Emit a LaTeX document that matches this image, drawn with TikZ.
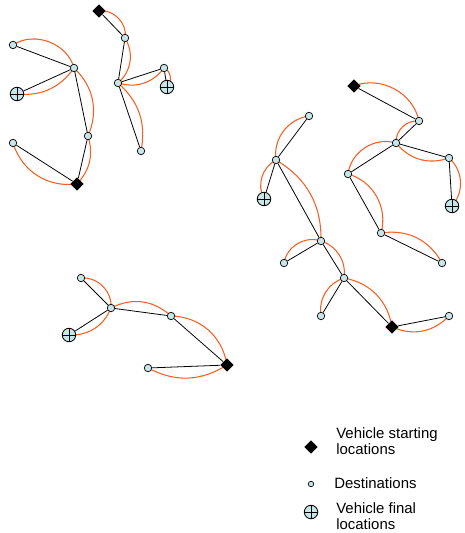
\documentclass[tikz,border=0pt]{standalone}
\usepackage{fontspec}
\setmainfont{Liberation Sans}
\usetikzlibrary{shapes.geometric,backgrounds,positioning}
\definecolor{routecol}{RGB}{246,94,36}
\definecolor{stopcol}{RGB}{200,230,232}

\begin{document}
\begin{tikzpicture}[x=0.02cm,y=0.02cm,font=\fontsize{8.5}{9.3}\selectfont]

\tikzset{startnode/.style={shape=diamond,fill=black,inner sep=0pt,minimum size=2.7mm},
destnode/.style={shape=circle,fill=stopcol,draw=black,line width=.4pt,inner sep=0pt,minimum size=1.5mm},
finalnode/.style={shape=circle,fill=stopcol,draw=black,line width=.5pt,inner sep=0pt,minimum size=2.7mm,
  path picture={\draw[line width=.5pt] (path picture bounding box.north) -- (path picture bounding box.south)
  (path picture bounding box.west) -- (path picture bounding box.east);}},
tree/.style={black,line width=.45pt},
trip/.style={routecol,line width=.6pt},
legtext/.style={anchor=west,align=left,inner sep=0pt}}

\useasboundingbox (0,0) rectangle (465,-533);

% Vehicle A (top middle)
\node[startnode] (sA) at (99,-11) {};
\node[destnode] (a1) at (125,-38) {};
\node[destnode] (a2) at (118,-83) {};
\node[destnode] (a3) at (164,-68) {};
\node[finalnode] (fA) at (167,-87) {};
\node[destnode] (a5) at (141,-151) {};

% Vehicle B (top left)
\node[startnode] (sB) at (77,-184) {};
\node[destnode] (b1) at (13,-45) {};
\node[destnode] (b2) at (74,-68) {};
\node[finalnode] (fB) at (17,-94) {};
\node[destnode] (b4) at (88,-136) {};
\node[destnode] (b5) at (13,-143) {};

% Vehicle C (right)
\node[startnode] (sC) at (354,-86) {};
\node[destnode] (c1) at (419,-121) {};
\node[destnode] (c2) at (396,-143) {};
\node[destnode] (c3) at (449,-158) {};
\node[finalnode] (fC) at (452,-206) {};
\node[destnode] (c5) at (348,-174) {};
\node[destnode] (c6) at (381,-233) {};
\node[destnode] (c7) at (442,-263) {};

% Vehicle D (middle right)
\node[startnode] (sD) at (392,-327) {};
\node[destnode] (d1) at (309,-116) {};
\node[destnode] (d2) at (276,-160) {};
\node[finalnode] (fD) at (264,-199) {};
\node[destnode] (d4) at (321,-241) {};
\node[destnode] (d5) at (284,-263) {};
\node[destnode] (d6) at (344,-278) {};
\node[destnode] (d7) at (321,-316) {};
\node[destnode] (d8) at (449,-316) {};

% Vehicle E (bottom left)
\node[startnode] (sE) at (227,-365) {};
\node[destnode] (e1) at (81,-278) {};
\node[destnode] (e2) at (111,-308) {};
\node[finalnode] (fE) at (69,-335) {};
\node[destnode] (e4) at (171,-316) {};
\node[destnode] (e5) at (148,-368) {};

\begin{scope}[on background layer]
% Spanning trees
\draw[tree] (sA) -- (a1) -- (a2) -- (a3) -- (fA) (a2) -- (a5);
\draw[tree] (b1) -- (b2) -- (fB) (b2) -- (b4) -- (sB) -- (b5);
\draw[tree] (sC) -- (c1) -- (c2) -- (c3) -- (fC) (c2) -- (c5) -- (c6) -- (c7);
\draw[tree] (d1) -- (d2) -- (fD) (d2) -- (d4) -- (d5) (d4) -- (d6) -- (d7) (d6) -- (sD) -- (d8);
\draw[tree] (e1) -- (e2) -- (fE) (e2) -- (e4) -- (sE) -- (e5);

% Driven routes
\draw[trip] (sA.center) to[bend left=55] (a1.center) to[bend left=40] (a2.center)
  to[bend left=30] (a5.center) (a2.center) to[bend right=35] (a3.center) to[bend left=60] (fA.center);
\draw[trip] (b1.center) to[bend left=55] (b2.center) to[bend left=30] (fB.center)
  (b2.center) to[bend left=35] (b4.center) to[bend left=30] (sB.center) to[bend left=40] (b5.center);
\draw[trip] (sC.center) to[bend left=50] (c1.center) to[bend right=50] (c2.center) to[bend right=50] (c5.center)
  to[bend left=45] (c6.center) to[bend left=35] (c7.center) (c2.center) to[bend right=35] (c3.center)
  to[bend left=45] (fC.center);
\draw[trip] (d2.center) to[bend left=45] (d1.center) (d2.center) to[bend right=45] (fD.center)
  (d2.center) to[bend left=30] (d4.center) to[bend right=50] (d5.center) (d4.center) to[bend left=40] (d6.center)
  to[bend right=40] (d7.center) (d6.center) to[bend left=35] (sD.center) to[bend right=35] (d8.center);
\draw[trip] (e1.center) to[bend left=50] (e2.center) to[bend left=35] (fE.center)
  (e2.center) to[bend left=35] (e4.center) to[bend left=40] (sE.center) to[bend left=30] (e5.center);
\end{scope}

% Legend
\node[startnode] (legStart) at (311,-447) {};
\node[legtext] (legStartText) at (336,-441) {Vehicle starting\\locations};
\node[destnode,minimum size=1.1mm] (legDest) at (311,-484) {};
\node[legtext] (legDestText) at (334,-483) {Destinations};
\node[finalnode] (legFinal) at (311,-512) {};
\node[legtext] (legFinalText) at (336,-516) {Vehicle final\\locations};

\end{tikzpicture}
\end{document}
